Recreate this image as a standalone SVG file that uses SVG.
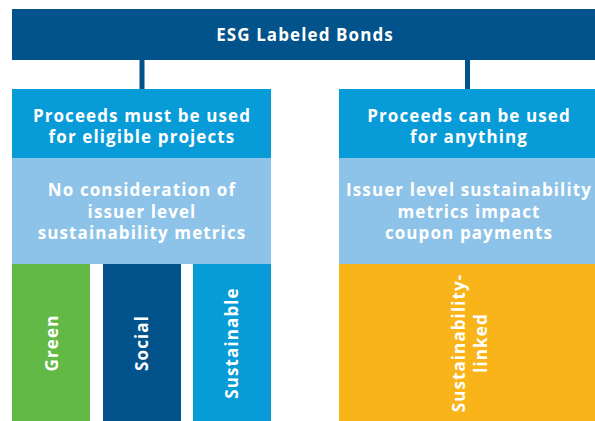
<svg xmlns="http://www.w3.org/2000/svg" width="595" height="421" viewBox="0 0 595 421">
  <style>
    text { font-family: "Open Sans", "Liberation Sans", sans-serif; font-weight: 700; fill: #ffffff; text-anchor: middle; letter-spacing: 1.1px; }
    .h { font-size: 17px; }
    .v { font-size: 17px; }
    .dark { fill: #02538b; }
    .bright { fill: #079bd8; }
    .light { fill: #8dc3e8; }
    .green { fill: #62b946; }
    .yellow { fill: #f8b418; }
  </style>

  <rect width="595" height="421" fill="#ffffff"/>

  <!-- connectors from the title bar down to the two columns -->
  <g id="connectors">
    <rect class="dark" x="139.5" y="58" width="5" height="33"/>
    <rect class="dark" x="465" y="58" width="5" height="33"/>
  </g>

  <g id="title">
    <rect class="dark" x="12" y="9" width="583" height="51"/>
    <text class="h" x="305" y="41">ESG Labeled Bonds</text>
  </g>

  <!-- left column -->
  <g id="use-of-proceeds">
    <rect class="bright" x="12" y="89" width="259" height="69"/>
    <text class="h" x="142" y="122">Proceeds must be used</text>
    <text class="h" x="142" y="143">for eligible projects</text>
  </g>
  <g id="no-issuer-metrics">
    <rect class="light" x="12" y="158" width="259" height="106"/>
    <text class="h" x="142" y="196">No consideration of</text>
    <text class="h" x="142" y="217.5">issuer level</text>
    <text class="h" x="142" y="239">sustainability metrics</text>
  </g>
  <g id="green">
    <rect class="green" x="12" y="264" width="78" height="157"/>
    <text class="v" transform="translate(58 343) rotate(-90)">Green</text>
  </g>
  <g id="social">
    <rect class="dark" x="103" y="264" width="78" height="157"/>
    <text class="v" transform="translate(148 343) rotate(-90)">Social</text>
  </g>
  <g id="sustainable">
    <rect class="bright" x="193" y="264" width="78" height="157"/>
    <text class="v" transform="translate(238 343) rotate(-90)">Sustainable</text>
  </g>

  <!-- right column -->
  <g id="general-purpose">
    <rect class="bright" x="339" y="89" width="256" height="69"/>
    <text class="h" x="469" y="122">Proceeds can be used</text>
    <text class="h" x="469" y="143">for anything</text>
  </g>
  <g id="issuer-metrics">
    <rect class="light" x="339" y="158" width="256" height="106"/>
    <text class="h" x="469" y="196">Issuer level sustainability</text>
    <text class="h" x="469" y="217.5">metrics impact</text>
    <text class="h" x="469" y="239">coupon payments</text>
  </g>
  <g id="sustainability-linked">
    <rect class="yellow" x="339" y="264" width="256" height="157"/>
    <text class="v" transform="translate(465 343) rotate(-90)">Sustainability-</text>
    <text class="v" transform="translate(487 343) rotate(-90)">linked</text>
  </g>
</svg>
